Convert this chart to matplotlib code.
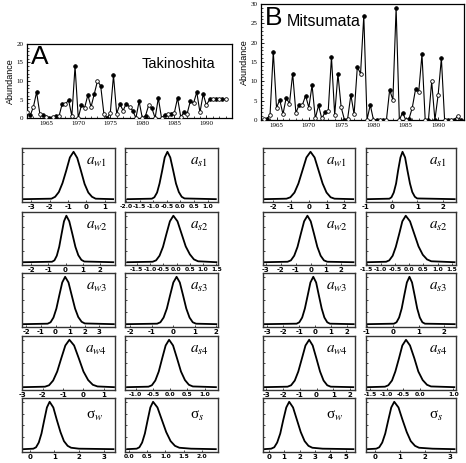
import numpy as np
import matplotlib
matplotlib.use("Agg")
from matplotlib import pyplot as plt

plt.rcParams['mathtext.fontset'] = 'stix'

# ---- abundance time series (two censuses per year) ----
taki_start = 1962.0
taki = [1.6, 0.7, 3.0, 7.0, 1.2, 0.8, 0.3, 0.0, 0.3, 0.5,
        0.5, 3.9, 3.8, 4.8, 0.5, 14.0, 0.0, 3.5, 2.8, 6.2,
        3.0, 6.5, 10.0, 8.7, 1.2, 0.0, 1.3, 11.5, 1.2, 3.8,
        2.0, 3.9, 3.0, 2.0, 0.0, 4.5, 0.0, 0.6, 3.5, 2.6,
        0.0, 5.4, 0.0, 0.8, 1.0, 1.2, 1.4, 5.4, 0.3, 1.5,
        1.2, 4.6, 4.0, 7.0, 1.5, 6.5, 3.5, 5.0, 5.0, 5.0,
        5.0, 5.1, 5.0]
mitsu_start = 1963.0
mitsu = [0.3, 0.3, 1.3, 17.7, 3.2, 5.2, 1.5, 5.8, 4.2, 12.0,
         1.8, 4.0, 3.9, 6.3, 3.2, 9.0, 0.4, 3.8, 0.4, 2.0,
         2.4, 16.3, 1.3, 11.9, 3.3, 0.1, 0.3, 6.5, 1.5, 13.7,
         12.0, 27.0, 0.1, 3.9, 0.0, 0.1, 0.0, 0.0, 0.0, 7.8,
         5.2, 29.0, 0.0, 1.9, 0.0, 0.3, 3.2, 7.9, 7.3, 17.0,
         0.0, 0.0, 10.0, 0.0, 6.5, 16.0, 0.0, 0.0, 0.0, 0.0,
         1.0, 0.0]

# ---- posterior densities (x, relative height) ----
A_aw1_x = [-3.4, -1.9, -1.7, -1.5, -1.3, -1.1, -0.9, -0.7, -0.5, -0.3, -0.1, 0.1, 0.3, 0.5, 1.45]
A_aw1_y = [0, 0.01, 0.05, 0.15, 0.34, 0.6, 0.88, 1, 0.87, 0.6, 0.32, 0.14, 0.05, 0.01, 0]
A_as1_x = [-1.95, -1.05, -0.96, -0.86, -0.77, -0.67, -0.58, -0.48, -0.375, -0.27, -0.165, -0.06, 0.045, 0.15, 1.3]
A_as1_y = [0, 0.01, 0.04, 0.14, 0.33, 0.61, 0.88, 1, 0.88, 0.61, 0.33, 0.15, 0.05, 0.015, 0]
A_aw2_x = [-2.45, -0.79, -0.65, -0.51, -0.37, -0.23, -0.09, 0.05, 0.22, 0.4, 0.58, 0.75, 0.93, 1.1, 2.8]
A_aw2_y = [0, 0.01, 0.04, 0.14, 0.33, 0.61, 0.88, 1, 0.88, 0.61, 0.33, 0.15, 0.05, 0.015, 0]
A_as2_x = [-1.85, -0.9, -0.77, -0.64, -0.51, -0.38, -0.25, -0.12, 0.035, 0.19, 0.345, 0.5, 0.655, 0.81, 1.5]
A_as2_y = [0, 0.01, 0.04, 0.14, 0.33, 0.61, 0.88, 1, 0.88, 0.61, 0.34, 0.17, 0.06, 0.02, 0]
A_aw3_x = [-2.2, -0.54, -0.34, -0.14, 0.06, 0.26, 0.46, 0.66, 0.89, 1.11, 1.34, 1.56, 1.79, 2.01, 4.0]
A_aw3_y = [0, 0.01, 0.04, 0.14, 0.33, 0.61, 0.88, 1, 0.88, 0.61, 0.33, 0.15, 0.05, 0.015, 0]
A_as3_x = [-2.15, -0.74, -0.59, -0.44, -0.29, -0.14, 0.01, 0.16, 0.31, 0.46, 0.61, 0.76, 0.91, 1.06, 2.0]
A_as3_y = [0, 0.01, 0.04, 0.14, 0.33, 0.61, 0.88, 1, 0.88, 0.61, 0.33, 0.14, 0.04, 0.01, 0]
A_aw4_x = [-2.95, -1.89, -1.69, -1.49, -1.29, -1.09, -0.89, -0.69, -0.46, -0.23, 0.0, 0.23, 0.46, 0.69, 1.5]
A_aw4_y = [0, 0.01, 0.04, 0.14, 0.33, 0.61, 0.88, 1, 0.88, 0.61, 0.33, 0.15, 0.05, 0.015, 0]
A_as4_x = [-1.25, -0.63, -0.53, -0.43, -0.33, -0.23, -0.13, -0.03, 0.085, 0.2, 0.315, 0.43, 0.545, 0.66, 1.33]
A_as4_y = [0, 0.01, 0.04, 0.14, 0.33, 0.61, 0.88, 1, 0.88, 0.61, 0.33, 0.15, 0.05, 0.015, 0]
A_sw_x = [-0.25, 0.15, 0.26, 0.37, 0.48, 0.59, 0.7, 0.81, 0.96, 1.1, 1.25, 1.39, 1.54, 1.68, 2.0, 3.4]
A_sw_y = [0, 0.01, 0.04, 0.14, 0.33, 0.61, 0.88, 1, 0.88, 0.62, 0.36, 0.17, 0.07, 0.03, 0.01, 0]
A_ss_x = [-0.05, 0.21, 0.285, 0.36, 0.435, 0.51, 0.585, 0.66, 0.78, 0.9, 1.02, 1.14, 1.26, 1.38, 1.7, 2.38]
A_ss_y = [0, 0.01, 0.04, 0.14, 0.33, 0.61, 0.88, 1, 0.88, 0.62, 0.36, 0.17, 0.07, 0.03, 0.01, 0]

B_aw1_x = [-2.5, -1.25, -1.03, -0.8, -0.58, -0.35, -0.13, 0.1, 0.33, 0.55, 0.78, 1.0, 1.23, 1.45, 2.5]
B_aw1_y = [0, 0.01, 0.04, 0.14, 0.33, 0.61, 0.88, 1, 0.88, 0.61, 0.33, 0.14, 0.04, 0.01, 0]
B_as1_x = [-0.95, -0.09, -0.01, 0.08, 0.17, 0.25, 0.34, 0.42, 0.52, 0.61, 0.71, 0.8, 0.9, 0.99, 2.45]
B_as1_y = [0, 0.01, 0.04, 0.14, 0.33, 0.61, 0.88, 1, 0.88, 0.61, 0.33, 0.15, 0.05, 0.015, 0]
B_aw2_x = [-3.1, -1.54, -1.32, -1.1, -0.88, -0.66, -0.44, -0.22, 0.0, 0.22, 0.44, 0.66, 0.88, 1.1, 2.85]
B_aw2_y = [0, 0.01, 0.04, 0.14, 0.33, 0.61, 0.88, 1, 0.88, 0.61, 0.33, 0.14, 0.04, 0.01, 0]
B_as2_x = [-1.47, -0.81, -0.7, -0.58, -0.47, -0.35, -0.24, -0.12, 0.03, 0.18, 0.33, 0.48, 0.63, 0.78, 1.6]
B_as2_y = [0, 0.01, 0.04, 0.14, 0.33, 0.61, 0.88, 1, 0.88, 0.61, 0.34, 0.16, 0.06, 0.02, 0]
B_aw3_x = [-3.2, -1.15, -0.98, -0.8, -0.63, -0.45, -0.28, -0.1, 0.08, 0.25, 0.43, 0.6, 0.78, 0.95, 2.45]
B_aw3_y = [0, 0.01, 0.04, 0.14, 0.33, 0.61, 0.88, 1, 0.88, 0.61, 0.33, 0.14, 0.04, 0.01, 0]
B_as3_x = [-0.98, 0.05, 0.15, 0.25, 0.35, 0.45, 0.55, 0.65, 0.75, 0.85, 0.95, 1.05, 1.15, 1.25, 2.4]
B_as3_y = [0, 0.01, 0.04, 0.14, 0.33, 0.61, 0.88, 1, 0.88, 0.61, 0.33, 0.14, 0.04, 0.01, 0]
B_aw4_x = [-3.12, -1.73, -1.52, -1.3, -1.09, -0.87, -0.66, -0.44, -0.23, -0.01, 0.21, 0.42, 0.64, 0.85, 2.2]
B_aw4_y = [0, 0.01, 0.04, 0.14, 0.33, 0.61, 0.88, 1, 0.88, 0.61, 0.33, 0.14, 0.04, 0.01, 0]
B_as4_x = [-1.57, -1.05, -0.95, -0.84, -0.74, -0.63, -0.53, -0.42, -0.3, -0.17, -0.05, 0.08, 0.21, 0.33, 1.03]
B_as4_y = [0, 0.01, 0.04, 0.14, 0.33, 0.61, 0.88, 1, 0.88, 0.61, 0.33, 0.15, 0.05, 0.015, 0]
B_sw_x = [-0.3, 0.16, 0.36, 0.55, 0.75, 0.94, 1.14, 1.33, 1.58, 1.83, 2.08, 2.33, 2.58, 2.83, 3.5, 5.5]
B_sw_y = [0, 0.01, 0.04, 0.14, 0.33, 0.61, 0.88, 1, 0.88, 0.62, 0.36, 0.17, 0.07, 0.03, 0.01, 0]
B_ss_x = [-0.3, 0.05, 0.17, 0.29, 0.41, 0.53, 0.65, 0.77, 0.94, 1.1, 1.27, 1.43, 1.6, 1.76, 2.3, 3.18]
B_ss_y = [0, 0.01, 0.04, 0.14, 0.33, 0.61, 0.88, 1, 0.88, 0.62, 0.36, 0.17, 0.07, 0.03, 0.01, 0]

# tick labels and x ranges per panel
A_ticks = [[-3, -2, -1, 0, 1], [-2.0, -1.5, -1.0, -0.5, 0.0, 0.5, 1.0],
           [-2, -1, 0, 1, 2], [-1.5, -1.0, -0.5, 0.0, 0.5, 1.0, 1.5],
           [-2, -1, 0, 1, 2, 3], [-2, -1, 0, 1, 2],
           [-3, -2, -1, 0, 1], [-1.0, -0.5, 0.0, 0.5, 1.0],
           [0, 1, 2, 3], [0.0, 0.5, 1.0, 1.5, 2.0]]
A_xlims = [(-3.5, 1.55), (-2.04, 1.38), (-2.55, 2.9), (-1.94, 1.56), (-2.3, 4.08),
           (-2.23, 2.08), (-3.02, 1.55), (-1.31, 1.39), (-0.31, 3.46), (-0.11, 2.44)]
B_ticks = [[-2, -1, 0, 1, 2], [-1, 0, 1, 2],
           [-3, -2, -1, 0, 1, 2], [-1.5, -1.0, -0.5, 0.0, 0.5, 1.0, 1.5],
           [-3, -2, -1, 0, 1, 2], [-1, 0, 1, 2],
           [-3, -2, -1, 0, 1, 2], [-1.5, -1.0, -0.5, 0.0, 1.0],
           [0, 1, 2, 3, 4, 5], [0, 1, 2, 3]]
B_xlims = [(-2.57, 2.6), (-1.0, 2.5), (-3.18, 2.95), (-1.52, 1.65), (-3.27, 2.53),
           (-1.03, 2.45), (-3.2, 2.3), (-1.62, 1.08), (-0.37, 5.6), (-0.36, 3.24)]
A_curves = [(A_aw1_x, A_aw1_y), (A_as1_x, A_as1_y), (A_aw2_x, A_aw2_y), (A_as2_x, A_as2_y),
            (A_aw3_x, A_aw3_y), (A_as3_x, A_as3_y), (A_aw4_x, A_aw4_y), (A_as4_x, A_as4_y),
            (A_sw_x, A_sw_y), (A_ss_x, A_ss_y)]
B_curves = [(B_aw1_x, B_aw1_y), (B_as1_x, B_as1_y), (B_aw2_x, B_aw2_y), (B_as2_x, B_as2_y),
            (B_aw3_x, B_aw3_y), (B_as3_x, B_as3_y), (B_aw4_x, B_aw4_y), (B_as4_x, B_as4_y),
            (B_sw_x, B_sw_y), (B_ss_x, B_ss_y)]
names = [r'$a_{w\mathrm{1}}$', r'$a_{s\mathrm{1}}$', r'$a_{w\mathrm{2}}$', r'$a_{s\mathrm{2}}$',
         r'$a_{w\mathrm{3}}$', r'$a_{s\mathrm{3}}$', r'$a_{w\mathrm{4}}$', r'$a_{s\mathrm{4}}$',
         u'\u03c3$_w$', u'\u03c3$_s$']

W, H = 466.0, 463.0
fig = plt.figure(figsize=(4.66, 4.63), dpi=100)


def box(x0, y0, x1, y1):
    # pixel box (top-left origin) -> figure fraction rect
    return [x0 / W, 1 - y1 / H, (x1 - x0) / W, (y1 - y0) / H]


def series(rect, start, vals, xlim, ylim, yt, letter, site, lab_xy):
    ax = fig.add_axes(rect)
    yrs = start + 0.5 * np.arange(len(vals))
    v = np.array(vals)
    filled = (yrs % 1) == 0.5
    ax.plot(yrs, v, '-', color='black', lw=0.8, zorder=2)
    ax.plot(yrs[filled], v[filled], 'o', ms=2.6, mfc='black', mec='black', mew=0.6, zorder=3)
    ax.plot(yrs[~filled], v[~filled], 'o', ms=2.6, mfc='white', mec='black', mew=0.6, zorder=3)
    ax.set_xlim(*xlim)
    ax.set_ylim(*ylim)
    ax.set_xticks([1965, 1970, 1975, 1980, 1985, 1990])
    ax.set_xticks(np.arange(1963, 1995), minor=True)
    ax.set_yticks(yt)
    ax.set_yticks(np.arange(0, ylim[1] + 0.1, 1), minor=True)
    ax.tick_params(direction='in', length=2.5, width=0.6, labelsize=5, pad=2.5)
    ax.tick_params(which='minor', direction='in', length=1.2, width=0.5)
    for t in ax.get_xticklabels() + ax.get_yticklabels():
        t.set_family('Liberation Serif')
    for s in ax.spines.values():
        s.set_linewidth(0.9)
    ax.text(0.02, 0.98, letter, transform=ax.transAxes, fontsize=19, va='top', ha='left',
            family='Liberation Sans')
    ax.text(lab_xy[0], lab_xy[1], site, transform=ax.transAxes, fontsize=lab_xy[2], va='top', ha='left',
            family='Liberation Sans')
    ax.set_ylabel('Abundance', fontsize=6.5, family='Liberation Sans', labelpad=1)
    return ax


series(box(27, 44, 232, 118), taki_start, taki, (1962.0, 1993.5), (0, 20), [0, 5, 10, 15, 20],
       'A', 'Takinoshita', (0.56, 0.82, 10.5))
series(box(261, 4, 464, 120), mitsu_start, mitsu, (1962.6, 1994.0), (0, 30), [0, 5, 10, 15, 20, 25, 30],
       'B', 'Mitsumata', (0.125, 0.91, 11.5))

rows = [(148, 202), (212, 265), (273, 327), (336, 390), (398, 452)]
colsA = [(22, 115), (125, 218)]
colsB = [(263, 355), (366, 456)]


def density(rect, cx, cy, xlim, ticks, name, sigma):
    ax = fig.add_axes(rect)
    ax.plot(cx, cy, color='black', lw=1.3)
    ax.set_xlim(*xlim)
    ax.set_ylim(-0.06, 1.08)
    ax.set_xticks(ticks)
    decimal = not isinstance(ticks[0], int)
    ax.set_xticklabels(['%.1f' % t if decimal else '%g' % t for t in ticks])
    ax.set_yticks([0, 0.25, 0.5, 0.75, 1.0])
    ax.set_yticklabels([])
    ax.tick_params(direction='in', length=1.5, width=0.5, labelsize=4.3 if decimal else 5, pad=1.5)
    for t in ax.get_xticklabels():
        t.set_fontweight('bold')
    for s in ax.spines.values():
        s.set_linewidth(1.0)
        s.set_color('#333333')
    if sigma:
        ax.text(0.78, 0.66, name, transform=ax.transAxes, fontsize=11, ha='center', va='center',
                family='Liberation Serif')
    else:
        ax.text(0.8, 0.75, name, transform=ax.transAxes, fontsize=11, ha='center', va='center')


for cols, curves, ticks, xlims in [(colsA, A_curves, A_ticks, A_xlims), (colsB, B_curves, B_ticks, B_xlims)]:
    for i in range(10):
        r, c = divmod(i, 2)
        x0, x1 = cols[c]
        y0, y1 = rows[r]
        density(box(x0, y0, x1, y1), curves[i][0], curves[i][1], xlims[i], ticks[i], names[i], r == 4)

fig.savefig('out.png', dpi=100)
